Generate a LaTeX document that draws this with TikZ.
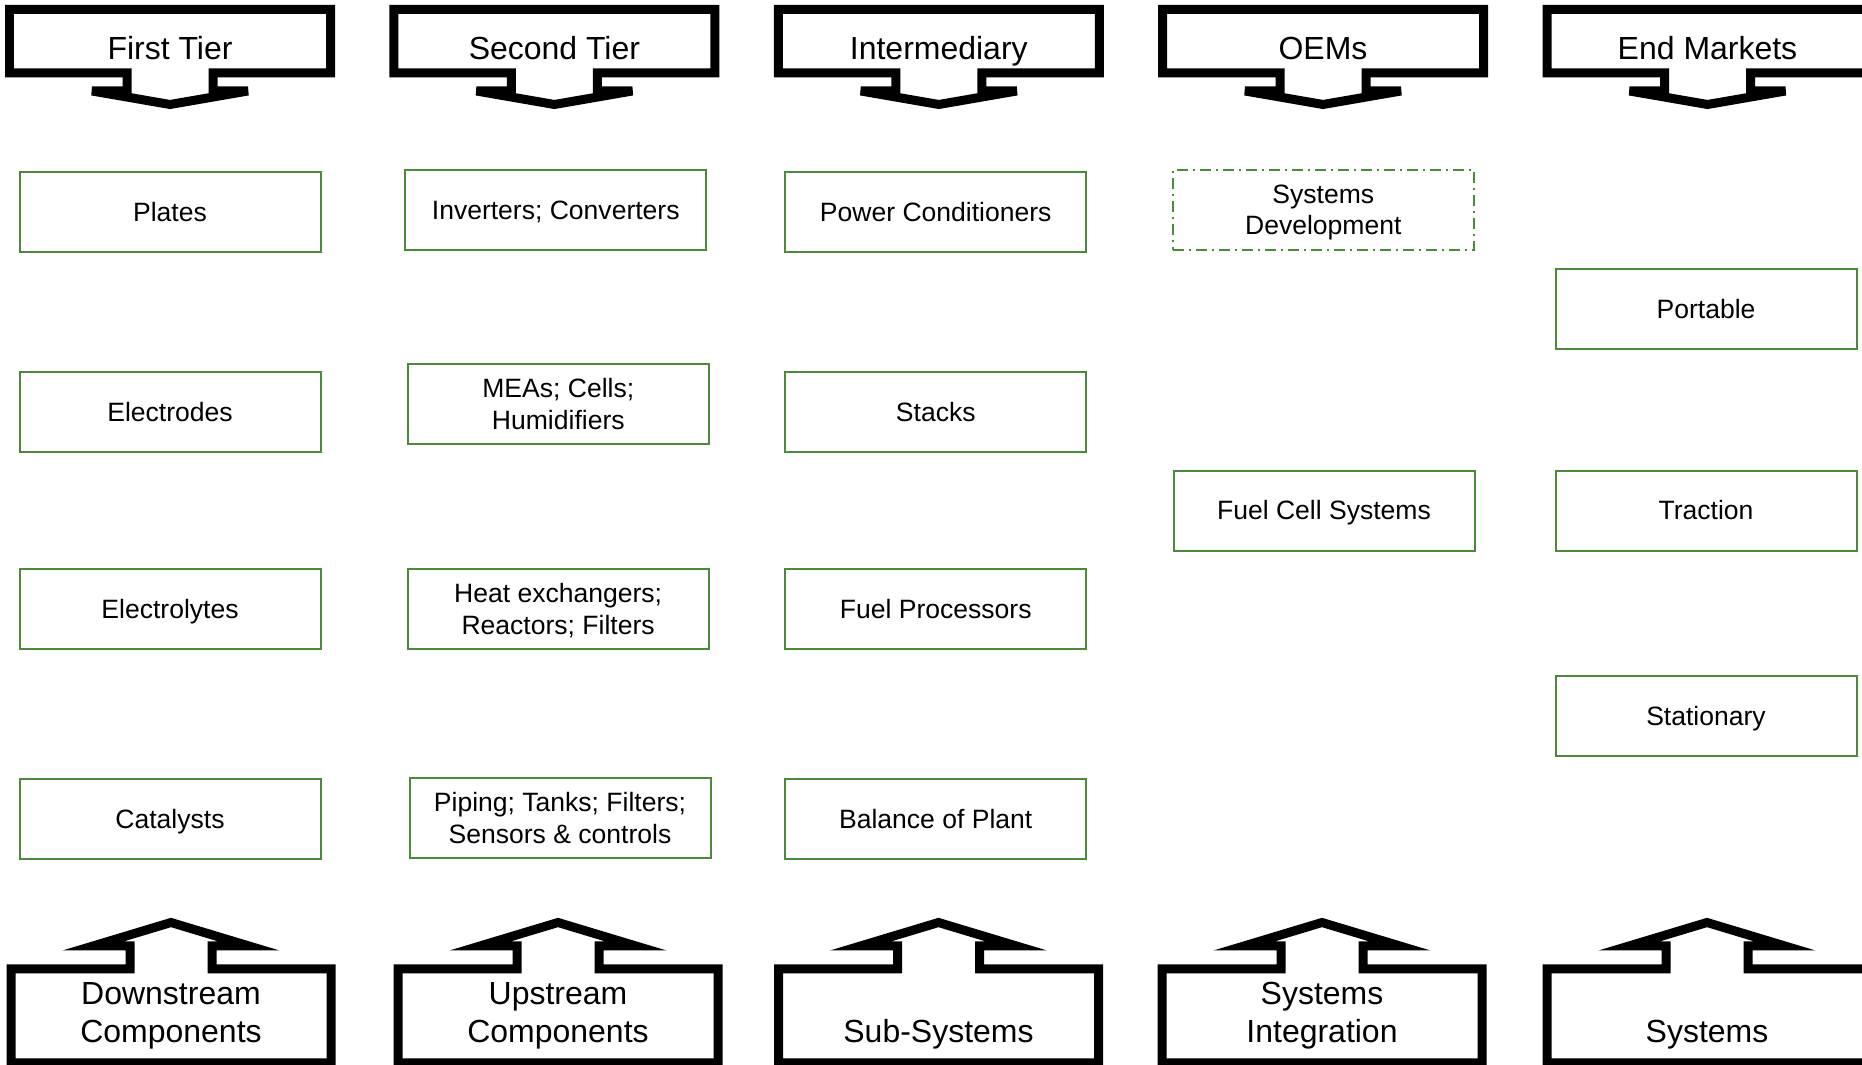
\documentclass[tikz,border=0pt]{standalone}
\usepackage{fontspec}
\setmainfont{Liberation Sans}
\usepackage{tikz}
\definecolor{boxgreen}{RGB}{74,138,56}
\newcommand{\ls}{\rule[-1.6pt]{0pt}{8.5pt}}

\begin{document}
\begin{tikzpicture}[x=0.1mm,y=-0.1mm,every node/.style={inner sep=0pt},
    part/.style={draw=boxgreen,line width=0.2mm,minimum width=30.1mm,minimum height=8mm,align=center,
        font=\fontsize{7.55}{9.1}\selectfont,execute at begin node=\ls,execute at end node=\ls},
    tier/.style={align=center,font=\fontsize{9.1}{10.8}\selectfont},
    callout/.style={draw,line width=0.9mm,fill=white}]
    \useasboundingbox (0,0) rectangle (1862,1065);

    % top callouts
    \foreach \x/\name/\txt in {170/first/First Tier,554.4/second/Second Tier,938.8/inter/Intermediary,1323/oems/OEMs,1707.5/markets/End Markets}{
        \draw[callout] (\x-160.5,9.5) -- (\x+160.5,9.5) -- (\x+160.5,73) -- (\x+43,73) -- (\x+43,91) -- (\x+78,91)
            -- (\x,104.5) -- (\x-78,91) -- (\x-43,91) -- (\x-43,73) -- (\x-160.5,73) -- cycle;
        \node[tier,anchor=base] (\name) at (\x,59.5) {\txt};
    }

    % bottom callouts
    \foreach \x/\name/\txt in {171/downstream/Downstream\\Components,558/upstream/Upstream\\Components,938.5/subsys/Sub-Systems,1322/integration/Systems\\Integration,1707/systems/Systems}{
        \draw[callout] (\x-160,969) -- (\x-41,969) -- (\x-41,946) -- (\x-78,946) -- (\x,922.5) -- (\x+78,946) -- (\x+41,946)
            -- (\x+41,969) -- (\x+160,969) -- (\x+160,1063) -- (\x-160,1063) -- cycle;
        \node[tier,anchor=south] (\name) at (\x,1050.3) {\txt};
    }

    % components
    \foreach \y/\name/\txt in {211.7/plates/Plates,412/electrodes/Electrodes,609/electrolytes/Electrolytes,819.4/catalysts/Catalysts}
        \node[part] (\name) at (170,\y) {\txt};
    \node[part] (inverters) at (555.75,210.2) {Inverters; Converters};
    \node[part] (meas) at (558.3,404) {\ls MEAs; Cells;\\Humidifiers};
    \node[part] (exchangers) at (558.1,609) {\ls Heat exchangers;\\Reactors; Filters};
    \node[part] (piping) at (560,818.3) {\ls Piping; Tanks; Filters;\\Sensors \& controls};
    \foreach \y/\name/\txt in {211.7/conditioners/Power Conditioners,412/stacks/Stacks,609/processors/Fuel Processors,819.4/bop/Balance of Plant}
        \node[part] (\name) at (935.75,\y) {\txt};
    \node[part,dash pattern=on 1.1mm off 0.5mm on 0.2mm off 0.5mm] (sysdev) at (1323.3,209.7) {\ls Systems\\Development};
    \node[part] (fcsystems) at (1324,510.6) {Fuel Cell Systems};
    \foreach \y/\name/\txt in {308.75/portable/Portable,510.6/traction/Traction,716/stationary/Stationary}
        \node[part] (\name) at (1706,\y) {\txt};
\end{tikzpicture}
\end{document}
